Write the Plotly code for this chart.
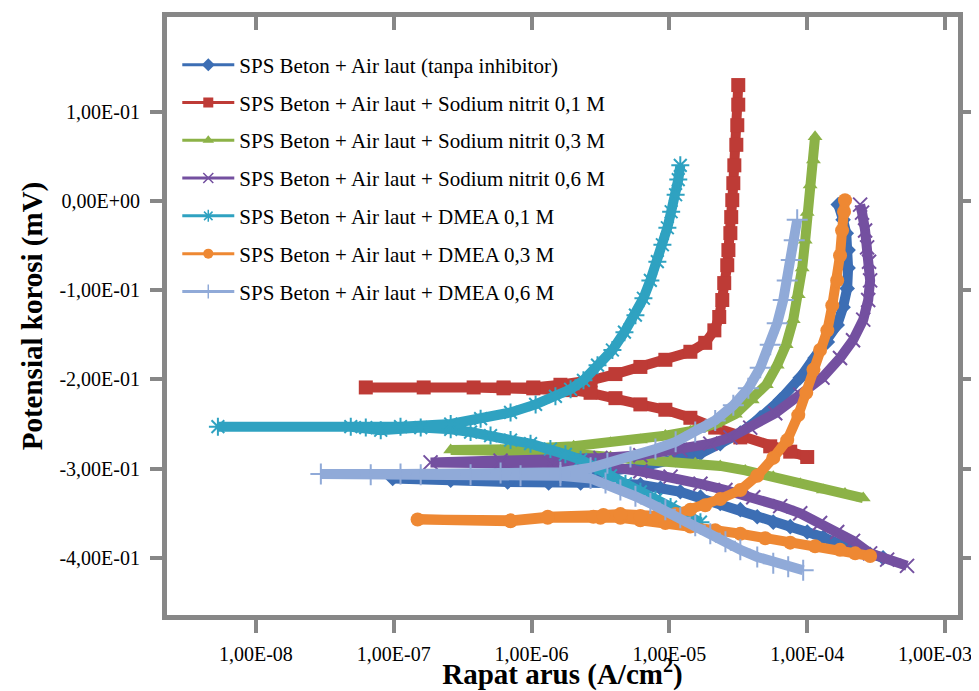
import plotly.graph_objects as go

# ---------------- data (current density A/cm2, potential V) ----------------
names = [
    "SPS Beton + Air laut (tanpa inhibitor)",
    "SPS Beton + Air laut + Sodium nitrit 0,1 M",
    "SPS Beton + Air laut + Sodium nitrit 0,3 M",
    "SPS Beton + Air laut + Sodium nitrit 0,6 M",
    "SPS Beton + Air laut + DMEA 0,1 M",
    "SPS Beton + Air laut + DMEA 0,3 M",
    "SPS Beton + Air laut + DMEA 0,6 M",
]

blank_i = [3.55e-4, 2.86e-4, 2.30e-4, 1.73e-4, 1.31e-4, 1.00e-4, 7.53e-5, 5.67e-5, 4.34e-5, 3.27e-5,
           2.34e-5, 1.68e-5, 1.20e-5, 8.61e-6, 6.16e-6, 3.74e-6, 2.27e-6, 1.33e-6, 6.70e-7, 2.59e-7, 9.83e-8,
           2.59e-7, 6.70e-7, 1.62e-6, 3.16e-6, 6.16e-6, 1.11e-5, 1.68e-5, 2.34e-5, 3.27e-5, 4.56e-5,
           6.37e-5, 8.90e-5, 1.14e-4, 1.40e-4, 1.65e-4, 1.82e-4, 1.95e-4, 1.98e-4, 1.98e-4, 1.92e-4, 1.82e-4, 1.68e-4]
blank_E = [-0.400, -0.396, -0.391, -0.385, -0.377, -0.371, -0.365, -0.360, -0.354, -0.346,
           -0.339, -0.332, -0.326, -0.322, -0.318, -0.316, -0.316, -0.316, -0.315, -0.313, -0.311,
           -0.311, -0.309, -0.307, -0.304, -0.298, -0.290, -0.283, -0.272, -0.260, -0.243,
           -0.223, -0.198, -0.176, -0.158, -0.139, -0.119, -0.098, -0.075, -0.055, -0.036, -0.021, -0.004]

nitrit01_i = [1.00e-4, 7.53e-5, 5.39e-5, 3.27e-5, 2.15e-5, 1.42e-5, 9.35e-6, 6.16e-6, 4.06e-6, 2.68e-6,
              1.92e-6, 1.03e-6, 6.27e-7, 3.80e-7, 1.65e-7, 6.27e-8,
              6.27e-7, 1.03e-6, 1.62e-6, 2.68e-6, 4.06e-6, 6.16e-6, 9.35e-6, 1.42e-5, 1.82e-5, 2.12e-5,
              2.30e-5, 2.42e-5, 2.50e-5, 2.63e-5, 2.68e-5, 2.77e-5, 2.81e-5, 2.86e-5, 2.91e-5, 2.96e-5,
              3.06e-5, 3.11e-5, 3.16e-5, 3.16e-5]
nitrit01_E = [-0.287, -0.281, -0.275, -0.265, -0.254, -0.243, -0.234, -0.228, -0.221, -0.215,
              -0.212, -0.210, -0.210, -0.209, -0.209, -0.209,
              -0.209, -0.209, -0.206, -0.201, -0.194, -0.186, -0.178, -0.169, -0.159, -0.145,
              -0.130, -0.111, -0.092, -0.072, -0.055, -0.036, -0.018, 0.001, 0.020, 0.040,
              0.063, 0.085, 0.108, 0.130]

nitrit03_i = [2.55e-4, 1.88e-4, 1.31e-4, 8.90e-5, 5.67e-5, 3.55e-5, 2.34e-5, 1.54e-5, 1.02e-5, 6.16e-6,
              3.74e-6, 2.27e-6, 1.37e-6, 5.96e-7, 2.59e-7,
              8.32e-7, 2.02e-6, 3.74e-6, 6.16e-6, 9.35e-6, 1.42e-5, 2.15e-5, 3.01e-5, 3.99e-5, 5.05e-5,
              6.06e-5, 7.04e-5, 7.92e-5, 8.61e-5, 9.20e-5, 9.67e-5, 1.00e-4, 1.05e-4, 1.11e-4, 1.14e-4]
nitrit03_E = [-0.333, -0.328, -0.324, -0.317, -0.309, -0.302, -0.297, -0.294, -0.291, -0.290,
              -0.287, -0.284, -0.281, -0.280, -0.279,
              -0.278, -0.275, -0.271, -0.268, -0.263, -0.258, -0.250, -0.239, -0.223, -0.206,
              -0.184, -0.161, -0.133, -0.105, -0.075, -0.044, -0.013, 0.018, 0.046, 0.072]

nitrit06_i = [5.30e-4, 3.80e-4, 2.86e-4, 2.15e-4, 1.65e-4, 1.24e-4, 8.90e-5, 6.37e-5, 4.06e-5, 2.55e-5,
              1.68e-5, 1.02e-5, 6.16e-6, 3.74e-6, 2.27e-6, 1.37e-6, 5.96e-7, 1.85e-7,
              5.96e-7, 1.62e-6, 3.16e-6, 6.16e-6, 1.20e-5, 1.98e-5, 2.77e-5, 3.86e-5, 5.86e-5, 8.90e-5,
              1.29e-4, 1.73e-4, 2.15e-4, 2.55e-4, 2.77e-4, 2.86e-4, 2.81e-4, 2.72e-4, 2.63e-4, 2.50e-4, 2.42e-4]
nitrit06_E = [-0.409, -0.402, -0.395, -0.381, -0.371, -0.361, -0.350, -0.342, -0.332, -0.324,
              -0.317, -0.309, -0.303, -0.298, -0.296, -0.295, -0.294, -0.293,
              -0.291, -0.290, -0.288, -0.285, -0.279, -0.272, -0.265, -0.254, -0.238, -0.217,
              -0.198, -0.176, -0.156, -0.133, -0.111, -0.089, -0.068, -0.052, -0.033, -0.013, -0.004]

dmea01_i = [1.68e-5, 1.31e-5, 1.02e-5, 7.92e-6, 6.16e-6, 4.80e-6, 3.74e-6, 2.91e-6, 2.27e-6, 1.76e-6,
            1.37e-6, 9.83e-7, 7.04e-7, 5.04e-7, 3.61e-7, 2.59e-7, 1.57e-7, 8.05e-8, 6.27e-8, 4.88e-8, 5.30e-9,
            1.12e-7, 2.59e-7, 4.27e-7, 7.04e-7, 1.07e-6, 1.49e-6, 1.92e-6, 2.38e-6, 3.01e-6, 3.86e-6,
            4.72e-6, 5.67e-6, 6.48e-6, 7.28e-6, 8.18e-6, 8.90e-6, 9.67e-6, 1.03e-5, 1.11e-5, 1.16e-5, 1.20e-5]
dmea01_E = [-0.360, -0.352, -0.343, -0.335, -0.326, -0.317, -0.308, -0.298, -0.290, -0.284,
            -0.278, -0.272, -0.268, -0.263, -0.259, -0.256, -0.254, -0.257, -0.254, -0.253, -0.253,
            -0.253, -0.250, -0.244, -0.237, -0.228, -0.219, -0.211, -0.201, -0.184, -0.167,
            -0.147, -0.128, -0.109, -0.089, -0.068, -0.049, -0.030, -0.012, 0.007, 0.024, 0.040]

dmea03_i = [2.86e-4, 2.23e-4, 1.73e-4, 1.14e-4, 7.53e-5, 4.96e-5, 3.27e-5, 2.15e-5, 1.42e-5, 9.35e-6,
            6.16e-6, 4.41e-6, 3.16e-6, 1.31e-6, 7.04e-7, 1.49e-7,
            7.04e-7, 1.31e-6, 2.81e-6, 3.32e-6, 4.41e-6, 6.16e-6, 8.18e-6, 1.11e-5, 1.42e-5, 1.82e-5,
            2.34e-5, 3.27e-5, 4.34e-5, 5.67e-5, 7.16e-5, 8.61e-5, 9.84e-5, 1.11e-4, 1.24e-4, 1.40e-4,
            1.52e-4, 1.65e-4, 1.73e-4, 1.79e-4, 1.85e-4, 1.88e-4]
dmea03_E = [-0.398, -0.395, -0.391, -0.387, -0.383, -0.378, -0.373, -0.369, -0.365, -0.361,
            -0.358, -0.355, -0.355, -0.355, -0.359, -0.357,
            -0.358, -0.354, -0.354, -0.352, -0.351, -0.353, -0.353, -0.351, -0.346, -0.341,
            -0.334, -0.324, -0.308, -0.288, -0.268, -0.240, -0.215, -0.189, -0.167, -0.145,
            -0.117, -0.089, -0.061, -0.033, -0.012, 0.001]

dmea06_i = [9.35e-5, 7.28e-5, 5.67e-5, 4.34e-5, 3.27e-5, 2.55e-5, 1.98e-5, 1.54e-5, 1.20e-5, 9.35e-6,
            7.28e-6, 5.67e-6, 4.41e-6, 3.44e-6, 2.68e-6, 1.62e-6, 8.32e-7, 3.61e-7, 1.57e-7, 6.81e-8, 2.96e-8,
            1.12e-7, 5.96e-7, 1.62e-6, 2.68e-6, 3.55e-6, 5.22e-6, 7.92e-6, 1.11e-5, 1.54e-5, 2.15e-5,
            2.91e-5, 3.74e-5, 4.56e-5, 5.39e-5, 6.06e-5, 6.70e-5, 7.16e-5, 7.66e-5, 8.05e-5, 8.46e-5]
dmea06_E = [-0.414, -0.410, -0.406, -0.399, -0.391, -0.382, -0.373, -0.364, -0.355, -0.346,
            -0.339, -0.331, -0.324, -0.316, -0.311, -0.308, -0.308, -0.307, -0.307, -0.307, -0.306,
            -0.306, -0.305, -0.304, -0.299, -0.294, -0.287, -0.278, -0.270, -0.259, -0.246,
            -0.229, -0.210, -0.187, -0.161, -0.137, -0.111, -0.089, -0.066, -0.044, -0.021]

series_i = [blank_i, nitrit01_i, nitrit03_i, nitrit06_i, dmea01_i, dmea03_i, dmea06_i]
series_E = [blank_E, nitrit01_E, nitrit03_E, nitrit06_E, dmea01_E, dmea03_E, dmea06_E]

x_tickvals = [1e-8, 1e-7, 1e-6, 1e-5, 1e-4, 1e-3]
x_ticktext = ["1,00E-08", "1,00E-07", "1,00E-06", "1,00E-05", "1,00E-04",
              "1,00E-03\u00a0\u00a0\u00a0\u00a0"]
y_tickvals = [-0.4, -0.3, -0.2, -0.1, 0.0, 0.1]
y_ticktext = ["-4,00E-01", "-3,00E-01", "-2,00E-01", "-1,00E-01", "0,00E+00", "1,00E-01"]

# ---------------- styles ----------------
colors = ["#3C6EB4", "#BE3B36", "#8CB247", "#7450A0", "#2FA2C1", "#EE8833", "#90AAD8"]
symbols = ["diamond", "square", "triangle-up", "x-thin-open", "asterisk-open", "circle", "cross-thin-open"]
msizes = [12, 14, 13, 14, 15, 14, 15]
FRAME = "#878787"
FONT = "Liberation Serif"

fig = go.Figure()
for k in range(7):
    open_sym = symbols[k].endswith("open")
    fig.add_trace(go.Scatter(
        x=series_i[k], y=series_E[k], mode="lines+markers",
        line=dict(color=colors[k], width=10),
        marker=dict(symbol=symbols[k], size=msizes[k], color=colors[k],
                    line=dict(color=colors[k], width=2 if open_sym else 0)),
        legendgroup=f"g{k}", showlegend=False, hoverinfo="skip"))

# legend entries (empty traces; attached to the top axis so it gets drawn)
for k in range(7):
    open_sym = symbols[k].endswith("open")
    fig.add_trace(go.Scatter(
        x=[None], y=[None], mode="lines+markers", name=names[k], xaxis="x2",
        line=dict(color=colors[k], width=3),
        marker=dict(symbol=symbols[k], size=10, color=colors[k],
                    line=dict(color=colors[k], width=1.5 if open_sym else 0)),
        legendgroup=f"g{k}", showlegend=True))

xr = [-8.645, -2.906]
yr = [-0.4641, 0.2063]

fig.update_layout(
    width=971, height=683,
    margin=dict(l=159, r=21, t=9, b=76, autoexpand=False),
    paper_bgcolor="white", plot_bgcolor="white",
    font=dict(family=FONT, color="black", size=20),
    showlegend=True,
    legend=dict(x=0.013, y=0.954, xanchor="left", yanchor="top",
                bgcolor="rgba(255,255,255,0)", borderwidth=0,
                font=dict(family=FONT, size=21, color="black"),
                tracegroupgap=7.5, itemwidth=52),
    xaxis=dict(type="log", range=xr, tickvals=x_tickvals, ticktext=x_ticktext, automargin=False,
               showgrid=False, zeroline=False, showline=True, linecolor=FRAME, linewidth=5,
               mirror=True, ticks="outside", ticklen=13, tickwidth=4, tickcolor=FRAME,
               ticklabelstandoff=4, ticklabeloverflow="allow",
               tickfont=dict(family=FONT, size=20, color="black"),
               title=dict(text="<b>Rapat arus (A/cm<sup>2</sup>)</b>", standoff=0,
                          font=dict(family=FONT, size=29, color="black"))),
    xaxis2=dict(type="log", range=xr, tickvals=x_tickvals, overlaying="x", side="top",
                anchor="y", showticklabels=False, showgrid=False, zeroline=False, showline=False,
                ticks="inside", ticklen=13, tickwidth=4, tickcolor=FRAME, automargin=False),
    yaxis=dict(range=yr, tickvals=y_tickvals, ticktext=y_ticktext, automargin=False,
               showgrid=False, zeroline=False, showline=True, linecolor=FRAME, linewidth=5,
               mirror="ticks", ticks="outside", ticklen=12, tickwidth=4, tickcolor=FRAME,
               ticklabelstandoff=6,
               tickfont=dict(family=FONT, size=20, color="black"),
               title=dict(text="<b>Potensial korosi (mV)</b>", standoff=10,
                          font=dict(family=FONT, size=29, color="black"))),
)

fig.write_html("out.html")
